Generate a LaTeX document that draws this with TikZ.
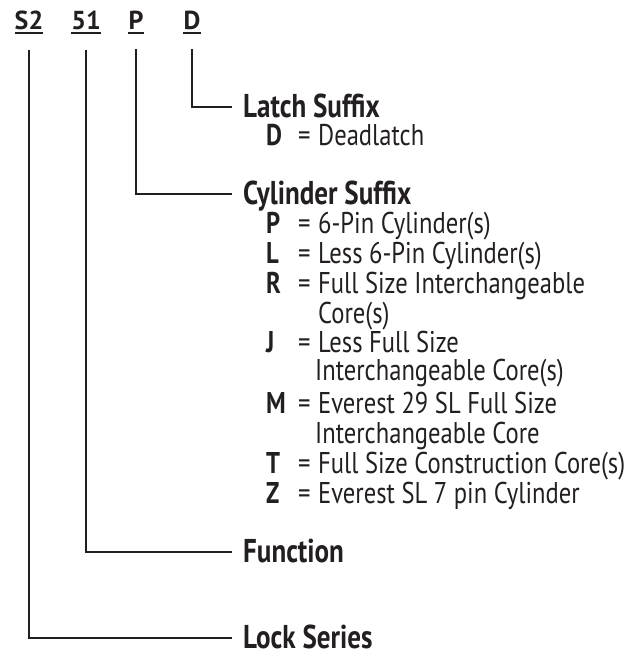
\documentclass[tikz,border=0pt]{standalone}
\usepackage{fontspec}
\setmainfont{PT Sans}[FakeStretch=0.82]
\newfontfamily\codefont{PT Sans}
\usetikzlibrary{positioning}
\definecolor{ink}{HTML}{231f20}

\begin{document}
\begin{tikzpicture}[x=1pt, y=-1pt, text=ink, draw=ink,
  code/.style={font=\fontsize{26}{26}\codefont\bfseries, inner sep=0pt, anchor=base},
  head/.style={font=\fontsize{33}{33}\selectfont\bfseries, inner sep=0pt, anchor=base west, text height=21pt, text depth=0pt},
  key/.style={font=\fontsize{30}{30}\selectfont\bfseries, inner sep=0pt, anchor=base west},
  desc/.style={font=\fontsize{30}{30}\selectfont, inner sep=0pt, anchor=base west},
  lead/.style={line width=2pt, shorten <=20pt, shorten >=11pt},
  uline/.style={line width=2pt}
]
  \useasboundingbox (0,0) rectangle (636,653);

  % model number
  \node[code] (ser) at (29,29) {S2};
  \node[code] (fun) at (86,29) {51};
  \node[code] (cyl) at (136,29) {P};
  \node[code] (lat) at (192,29) {D};
  \foreach \n in {ser,fun,cyl,lat}
    \draw[uline] ([yshift=-4pt]\n.base west) -- ([yshift=-4pt]\n.base east);

  % headings
  \node[head] (hlat) at (243,117) {Latch Suffix};
  \node[head] (hcyl) at (243,204) {Cylinder Suffix};
  \node[head] (hfun) at (243,562) {Function};
  \node[head] (hser) at (243,648) {Lock Series};

  % options
  \foreach \y/\k/\t in {145/D/Deadlatch, 233/P/6-Pin Cylinder(s), 263/L/Less 6-Pin Cylinder(s),
      293/R/Full Size Interchangeable, 352/J/Less Full Size, 413/M/Everest 29 SL Full Size,
      473/T/Full Size Construction Core(s), 503/Z/Everest SL 7 pin Cylinder} {
    \node[key] (k\y) at (266,\y) {\k};
    \node[desc] (e\y) at (298,\y) {=};
    \node[desc] (t\y) at (318,\y) {\t};
  }
  \node[desc] (t323) at (318,323) {Core(s)};
  \node[desc] (t380) at (315,380) {Interchangeable Core(s)};
  \node[desc] (t443) at (315,443) {Interchangeable Core};

  % leaders
  \draw[lead] (lat.south) |- (hlat.west);
  \draw[lead] (cyl.south) |- (hcyl.west);
  \draw[lead] (fun.south) |- (hfun.west);
  \draw[lead] (ser.south) |- (hser.west);
\end{tikzpicture}
\end{document}
